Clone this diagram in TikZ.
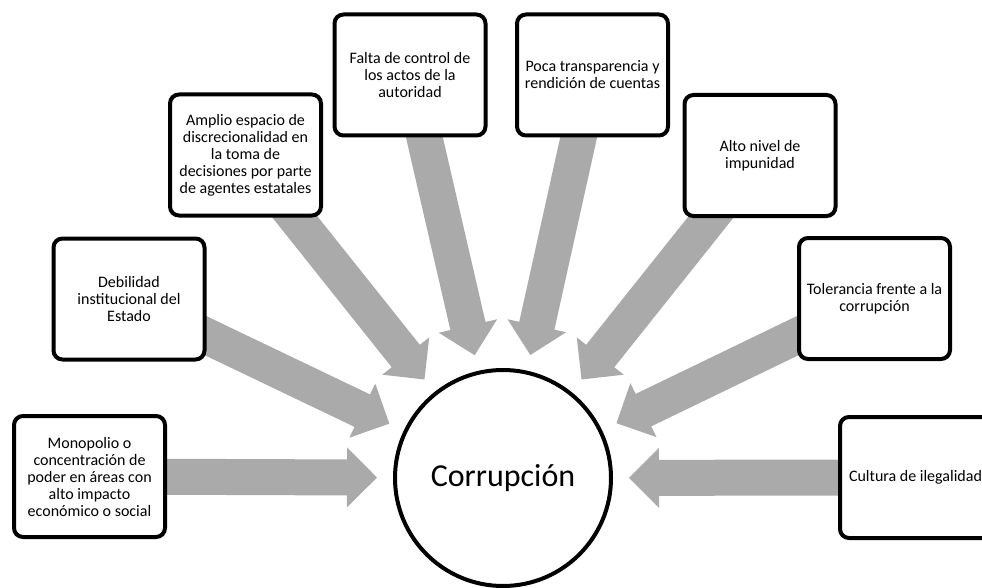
\documentclass[tikz,border=0pt]{standalone}
\usepackage{fontspec}
\setmainfont{Carlito}
\usetikzlibrary{calc,backgrounds}
\definecolor{arrowgray}{RGB}{170,170,170}
\tikzset{
  causebox/.style={draw=black, line width=4pt, rounded corners=9pt, fill=white,
    minimum width=151pt, minimum height=121pt, align=center, inner sep=2pt,
    font=\fontsize{16}{17}\selectfont},
  centercircle/.style={draw=black, line width=4pt, circle, fill=white,
    minimum size=216pt, inner sep=0pt, font=\fontsize{32}{38}\selectfont},
  blockarrow/.style={fill=arrowgray, draw=none}
}
\newcommand\causearrow[1]{%
  \coordinate (#1-s) at (#1.center);
  \coordinate (#1-t) at ($(C.center)!126pt!(#1.center)$);
  \coordinate (#1-h) at ($(#1-t)!30pt!(#1-s)$);
  \path[blockarrow]
    ($(#1-s)!18pt!90:(#1-t)$) --
    ($(#1-h)!18pt!-90:(#1-s)$) --
    ($(#1-h)!30pt!-90:(#1-s)$) --
    (#1-t) --
    ($(#1-h)!30pt!90:(#1-s)$) --
    ($(#1-h)!18pt!90:(#1-s)$) --
    ($(#1-s)!18pt!-90:(#1-t)$) -- cycle;
}
\begin{document}
\begin{tikzpicture}[x=1pt,y=-1pt]
\useasboundingbox (0,0) rectangle (982,588);
\clip (0,0) rectangle (982,588);
\node[centercircle] (C) at (503,478) {Corrupción};
\node[causebox] (m) at (89.5,476.5) {Monopolio o\\concentración de\\poder en áreas con\\alto impacto\\económico o social};
\node[causebox] (d) at (129,299) {Debilidad\\institucional del\\Estado};
\node[causebox] (a) at (245.5,155) {Amplio espacio de\\discrecionalidad en\\la toma de\\decisiones por parte\\de agentes estatales};
\node[causebox] (f) at (410,75) {Falta de control de\\los actos de la\\autoridad};
\node[causebox] (p) at (592.5,75) {Poca transparencia y\\rendición de cuentas};
\node[causebox] (i) at (760,155.5) {Alto nivel de\\impunidad};
\node[causebox] (t) at (874.5,298.5) {Tolerancia frente a la\\corrupción};
\node[causebox] (c) at (915.5,477.5) {Cultura de ilegalidad};
\begin{scope}[on background layer]
  \causearrow{m}
  \causearrow{d}
  \causearrow{a}
  \causearrow{f}
  \causearrow{p}
  \causearrow{i}
  \causearrow{t}
  \causearrow{c}
\end{scope}
\end{tikzpicture}
\end{document}
